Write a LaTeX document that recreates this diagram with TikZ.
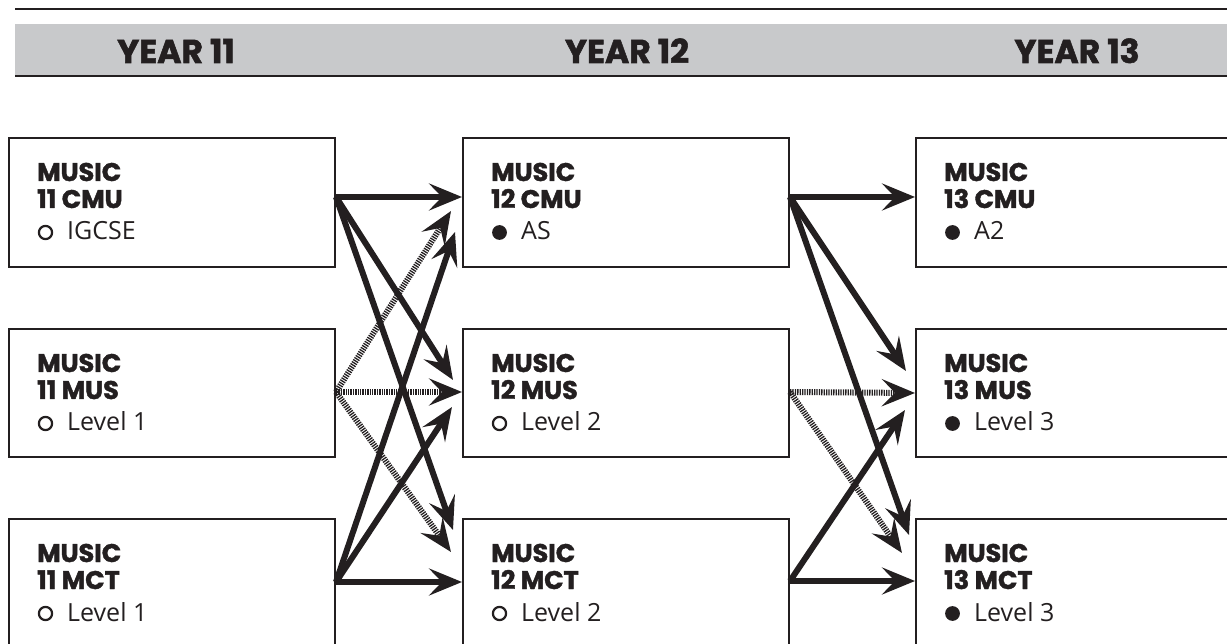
\documentclass[tikz,border=0pt]{standalone}
\usepackage{fontspec}
\setmainfont{Open Sans}
\newfontfamily\headfont{Poppins}[BoldFeatures={FakeBold=1.6}]
\usetikzlibrary{arrows.meta}
\definecolor{ink}{HTML}{231F20}
\definecolor{band}{HTML}{C8C9CB}
\newcommand\course[8]{%
  % #1 name, #2 x, #3 y top, #4 code, #5 bullet style, #6 level, #7 width, #8 height
  \node[box, minimum width=#7pt, minimum height=#8pt] (#1) at (#2,#3) {};
  \node[titletext] (#1a) at (#2+28,#3+43) {MUSIC};
  \node[titletext] (#1b) at (#2+28,#3+70) {#4};
  \path[#5] (#2+36.5,#3+94.5) circle;
  \node[lvltext] (#1c) at (#2+58,#3+102) {#6};
}
\begin{document}
\begin{tikzpicture}[x=1pt,y=-1pt,
  box/.style={draw=ink, line width=2.6pt, inner sep=0pt, outer sep=0pt, anchor=north west},
  headtext/.style={font=\headfont\bfseries\fontsize{33}{33}\selectfont, text=ink, anchor=base, inner sep=0pt},
  titletext/.style={font=\headfont\bfseries\fontsize{25.5}{27}\selectfont, text=ink, anchor=base west, inner sep=0pt},
  lvltext/.style={font=\fontsize{25}{28}\selectfont, text=ink, anchor=base west, inner sep=0pt},
  openbul/.style={draw=ink, line width=2.2pt, radius=6.6},
  fullbul/.style={fill=ink, radius=7.4},
  tip/.style={-{Stealth[length=33pt,width=27pt,inset=13pt]}},
  solidarrow/.style={tip, line width=6pt, draw=ink},
  hatcharrow/.style={tip, line width=6pt, draw=ink, dash pattern=on 1.3pt off 1.1pt},
]
\useasboundingbox (0,0) rectangle (1227,644);
\clip (0,0) rectangle (1227,644);

% header
\draw[ink, line width=2.4pt] (15,9) -- (1227,9);
\fill[band] (15,24) rectangle (1227,75);
\draw[ink, line width=2.4pt] (15,76) -- (1227,76);
\node[headtext] (h11) at (176,63) {YEAR 11};
\node[headtext] (h12) at (627,63) {YEAR 12};
\node[headtext] (h13) at (1077,63) {YEAR 13};

% boxes
\course{A1}{9}{138}{11 CMU}{openbul}{IGCSE}{326}{129}
\course{A2}{9}{329}{11 MUS}{openbul}{Level 1}{326}{128}
\course{A3}{9}{519}{11 MCT}{openbul}{Level 1}{326}{160}
\course{B1}{463}{138}{12 CMU}{fullbul}{AS}{326}{129}
\course{B2}{463}{329}{12 MUS}{openbul}{Level 2}{326}{128}
\course{B3}{463}{519}{12 MCT}{openbul}{Level 2}{326}{160}
\course{C1}{916}{138}{13 CMU}{fullbul}{A2}{340}{129}
\course{C2}{916}{329}{13 MUS}{fullbul}{Level 3}{340}{128}
\course{C3}{916}{519}{13 MCT}{fullbul}{Level 3}{340}{160}

% connector points
\coordinate (A1o) at (336,197);
\coordinate (A2o) at (336,392);
\coordinate (A3o) at (336,582);
\coordinate (B1o) at (790,197);
\coordinate (B2o) at (790,392);
\coordinate (B3o) at (790,581);
\coordinate (B1i1) at (462,197);
\coordinate (B1i2) at (451,211);
\coordinate (B1i3) at (455,232);
\coordinate (B2i1) at (453,380);
\coordinate (B2i2) at (462,392);
\coordinate (B2i3) at (452,407);
\coordinate (B3i1) at (453,530);
\coordinate (B3i2) at (451,552);
\coordinate (B3i3) at (462,582);
\coordinate (C1i1) at (915,197);
\coordinate (C2i1) at (906,371);
\coordinate (C2i2) at (915,393);
\coordinate (C2i3) at (905,410);
\coordinate (C3i1) at (909,535);
\coordinate (C3i2) at (902,553);
\coordinate (C3i3) at (915,581);

% hatched connectors
\draw[hatcharrow] (A2o) -- (B1i2);
\draw[hatcharrow] (A2o) -- (B2i2);
\draw[hatcharrow] (A2o) -- (B3i2);
\draw[hatcharrow] (B2o) -- (C2i2);
\draw[hatcharrow] (B2o) -- (C3i2);

% solid connectors
\draw[solidarrow] (A1o) -- (B1i1);
\draw[solidarrow] (A1o) -- (B2i1);
\draw[solidarrow] (A1o) -- (B3i1);
\draw[solidarrow] (A3o) -- (B1i3);
\draw[solidarrow] (A3o) -- (B2i3);
\draw[solidarrow] (A3o) -- (B3i3);
\draw[solidarrow] (B1o) -- (C1i1);
\draw[solidarrow] (B1o) -- (C2i1);
\draw[solidarrow] (B1o) -- (C3i1);
\draw[solidarrow] (B3o) -- (C2i3);
\draw[solidarrow] (B3o) -- (C3i3);
\end{tikzpicture}
\end{document}
